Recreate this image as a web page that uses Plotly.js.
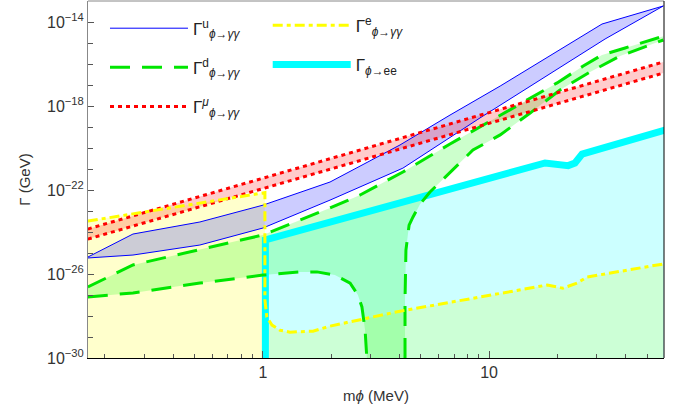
<!DOCTYPE html>
<html>
<head>
<meta charset="utf-8">
<script src="https://cdn.plot.ly/plotly-3.0.1.min.js"></script>
<style>html,body{margin:0;padding:0;background:#fff;}#chart{width:689px;height:416px;}</style>
</head>
<body>
<div id="chart"></div>
<script>
// axis limits (log10)
const X_RANGE_LOG = [-0.774, 1.774];
const Y_RANGE_LOG = [-30, -13];
const Y_MIN = 1e-30;

// Γ^u (φ→γγ) band
const uUpX = [0.168, 0.266, 0.526, 1.0, 1.98, 4.04, 6.72, 11.2, 31.6, 59];
const uUpY = [6.4e-26, 8.0e-25, 3.0e-24, 1.9e-23, 2.4e-22, 1.4e-20, 3.7e-19, 8.9e-18, 8.0e-15, 5.8e-14];
const uLoX = [0.168, 0.266, 0.526, 1.0, 1.98, 4.16, 9.12, 32.6, 59];
const uLoY = [5.8e-26, 8.0e-26, 2.4e-25, 1.55e-24, 3.3e-23, 1.1e-21, 2.7e-19, 1.55e-15, 5.8e-14];

// Γ^μ band
const muX = [0.168, 1, 10, 59];
const muUpY = [1.39e-24, 3.6e-22, 4.9e-19, 1.24e-16];
const muLoY = [4.6e-25, 1.17e-22, 1.5e-19, 3.7e-17];

// Γ^e curve
const eX = [0.168, 1.02, 1.02, 1.04, 1.096, 1.19, 1.317, 1.664, 1.98, 4.04, 9.12, 18.1, 21.2, 24.5, 27.2, 42.1, 59];
const eY = [3.3e-24, 7.5e-23, 5.8e-28, 8.9e-29, 3.7e-29, 2.1e-29, 1.7e-29, 1.9e-29, 3.3e-29, 1.7e-28, 8.0e-28, 3.0e-27, 2.1e-27, 3.7e-27, 7.2e-27, 1.55e-26, 3.0e-26];

// Γ(φ→ee)
const eeX = [1.025, 1.025, 17.7, 19.2, 20.6, 22.4, 24.0, 25.8, 60];
const eeY = [1e-30, 4.2e-25, 1.94e-21, 1.74e-21, 1.35e-21, 1.45e-21, 1.94e-21, 5.1e-21, 7.2e-20];

// Γ^d band: upper edge, lower-left branch, lower-right branch
const dUpX = [0.168, 0.266, 1.0, 1.98, 2.69, 4.16, 6.72, 11.2, 20.0, 26.1, 31.6, 40.0, 59];
const dUpY = [2.4e-27, 2.7e-26, 7.2e-25, 1.39e-23, 5.8e-23, 7.2e-22, 1.55e-20, 3.7e-19, 1.26e-17, 8.0e-17, 2.7e-16, 5.8e-16, 2.1e-15];
const dLoLX = [0.168, 0.266, 0.526, 1.0, 1.458, 1.734, 2.08, 2.43, 2.63, 2.74, 2.83, 2.88];
const dLoLY = [8.0e-28, 1.26e-27, 3.7e-27, 8.9e-27, 1.26e-26, 1.26e-26, 8.9e-27, 3.7e-27, 1.0e-27, 2.7e-28, 2.1e-29, 1e-30];
const dLoRX = [4.25, 4.25, 4.29, 4.43, 4.61, 4.95, 5.48, 6.52, 8.49, 11.2, 15.2, 20.6, 28.0, 38.0, 59];
const dLoRY = [1e-30, 5.8e-28, 1.39e-25, 2.1e-24, 5.2e-24, 2.1e-23, 8.0e-23, 5.2e-22, 8.0e-21, 4.2e-20, 4.6e-19, 5.8e-18, 4.2e-17, 2.4e-16, 1.39e-15];

// ticks
const xMajor = [1, 10];
const xMajorText = ['1', '10'];
const xMinor = [0.2, 0.3, 0.4, 0.5, 0.6, 0.7, 0.8, 0.9, 2, 3, 4, 5, 6, 7, 8, 9, 20, 30, 40, 50];
const yMajorExp = [-30, -26, -22, -18, -14];
const yMinorExp = [-29, -28, -27, -25, -24, -23, -21, -20, -19, -17, -16, -15, -13];

const FONT = 'Liberation Sans, Arial, Helvetica, sans-serif';
const rev = a => a.slice().reverse();

function fillTrace(x, y, color) {
  return {x: x, y: y, type: 'scatter', mode: 'lines', fill: 'toself', fillcolor: color,
          line: {width: 0, color: color}, showlegend: false, hoverinfo: 'skip'};
}
function lineTrace(x, y, color, width, dash, name, legend, rank) {
  const t = {x: x, y: y, type: 'scatter', mode: 'lines',
             line: {color: color, width: width, dash: dash}, hoverinfo: 'skip'};
  if (name) { t.name = name; t.legend = legend; t.legendgroup = 'g' + rank; t.legendrank = rank; t.showlegend = true; }
  else t.showlegend = false;
  return t;
}

const traces = [
  fillTrace(eX.concat([eX[eX.length - 1], eX[0]]), eY.concat([Y_MIN, Y_MIN]), 'rgba(255,255,0,0.2)'),
  fillTrace(eeX.concat([eeX[eeX.length - 1]]), eeY.concat([Y_MIN]), 'rgba(0,255,255,0.2)'),
  fillTrace(dUpX.concat(rev(dLoRX), rev(dLoLX)), dUpY.concat(rev(dLoRY), rev(dLoLY)), 'rgba(0,255,0,0.2)'),
  fillTrace(uUpX.concat(rev(uLoX)), uUpY.concat(rev(uLoY)), 'rgba(0,0,255,0.2)'),
  fillTrace(muX.concat(rev(muX)), muUpY.concat(rev(muLoY)), 'rgba(255,0,0,0.2)'),

  lineTrace(eeX, eeY, '#00ffff', 7, 'solid', 'Γ<sub><i>ϕ</i>→ee</sub>', 'legend2', 5),
  lineTrace(uUpX, uUpY, '#0000ff', 1, 'solid', 'Γ<sup>u</sup><sub><i>ϕ</i>→<i>γγ</i></sub>', 'legend', 1),
  lineTrace(uLoX, uLoY, '#0000ff', 1, 'solid', null),
  lineTrace(dUpX, dUpY, '#00e600', 3, '20px,12px', 'Γ<sup>d</sup><sub><i>ϕ</i>→<i>γγ</i></sub>', 'legend', 2),
  lineTrace(dLoLX, dLoLY, '#00e600', 3, '20px,12px', null),
  lineTrace(dLoRX, dLoRY, '#00e600', 3, '20px,12px', null),
  lineTrace(muX, muUpY, '#ff0000', 3, '4px,4px', 'Γ<sup><i>μ</i></sup><sub><i>ϕ</i>→<i>γγ</i></sub>', 'legend', 3),
  lineTrace(muX, muLoY, '#ff0000', 3, '4px,4px', null),
  lineTrace(eX, eY, '#ffff00', 3, '10px,4px,4px,4px', 'Γ<sup>e</sup><sub><i>ϕ</i>→<i>γγ</i></sub>', 'legend2', 4)
];

const yTickVals = yMajorExp.map(e => Math.pow(10, e));
const yTickText = yMajorExp.map(e => '10<sup>−' + Math.abs(e) + '</sup>');
const yMinorVals = yMinorExp.map(e => Math.pow(10, e));

const legendCommon = {
  yanchor: 'top', xanchor: 'left', bgcolor: 'rgba(0,0,0,0)', borderwidth: 0,
  itemwidth: 78, tracegroupgap: 14, font: {family: FONT, size: 17, color: '#222'}
};

const layout = {
  width: 689, height: 416,
  margin: {l: 88, r: 25, t: 1, b: 58},
  paper_bgcolor: '#fff', plot_bgcolor: '#fff',
  font: {family: FONT, size: 16, color: '#333'},
  xaxis: {
    type: 'log', range: X_RANGE_LOG, showgrid: false, zeroline: false,
    showline: true, linecolor: '#000', linewidth: 1, mirror: false,
    tickmode: 'array', tickvals: xMajor, ticktext: xMajorText,
    ticks: 'inside', ticklen: 7, tickcolor: '#555', tickwidth: 1,
    minor: {tickmode: 'array', tickvals: xMinor, ticks: 'inside', ticklen: 4, tickcolor: '#555', showgrid: false},
    tickfont: {family: FONT, size: 16, color: '#333'},
    title: {text: 'm<i>ϕ</i> (MeV)', font: {family: FONT, size: 15, color: '#333'}, standoff: 10}
  },
  yaxis: {
    type: 'log', range: Y_RANGE_LOG, showgrid: false, zeroline: false,
    showline: true, linecolor: '#888', linewidth: 1, mirror: false,
    tickmode: 'array', tickvals: yTickVals, ticktext: yTickText,
    ticks: 'inside', ticklen: 6, tickcolor: '#555', tickwidth: 1,
    minor: {tickmode: 'array', tickvals: yMinorVals, ticks: 'inside', ticklen: 5, tickcolor: '#555', showgrid: false},
    tickfont: {family: FONT, size: 16, color: '#333'},
    title: {text: 'Γ (GeV)', font: {family: FONT, size: 15, color: '#333'}, standoff: 12}
  },
  legend: Object.assign({x: 0.0295, y: 0.973}, legendCommon),
  legend2: Object.assign({x: 0.312, y: 0.981}, legendCommon),
  shapes: [
    {type: 'line', xref: 'paper', yref: 'paper', x0: 0, x1: 1, y0: 1, y1: 1, line: {color: '#888', width: 1}},
    {type: 'line', xref: 'paper', yref: 'paper', x0: 1, x1: 1, y0: 0, y1: 1, line: {color: '#000', width: 1}}
  ],
  showlegend: true
};

Plotly.newPlot('chart', traces, layout, {displayModeBar: false, staticPlot: true});
</script>
</body>
</html>
